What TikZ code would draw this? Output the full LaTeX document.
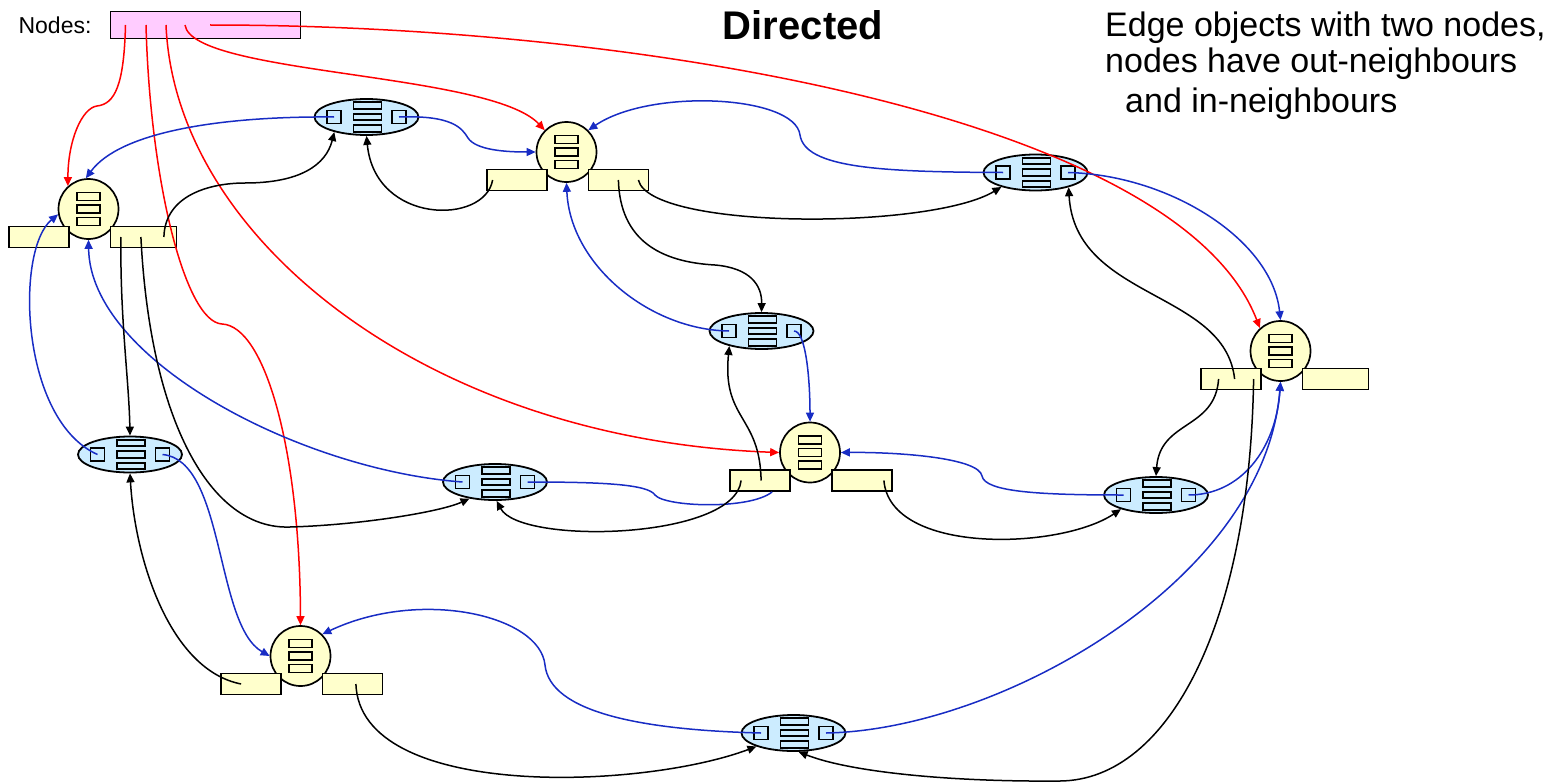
\documentclass[tikz,border=0pt]{standalone}
\usepackage{fontspec}
\setmainfont{Liberation Sans}
\usetikzlibrary{positioning,arrows.meta,shapes.geometric}
\definecolor{nodefill}{RGB}{255,255,204}
\definecolor{edgefill}{RGB}{204,236,255}
\definecolor{listfill}{RGB}{255,204,255}
\definecolor{linkblue}{RGB}{24,44,196}
\tikzset{
  >={Triangle[length=9pt,width=8pt]},
  gcirc/.style={circle,draw,fill=nodefill,line width=1.7pt,minimum size=60pt,
    inner sep=0pt},
  gslot/.style={draw,fill=nodefill,line width=1.6pt,minimum width=23pt,
    minimum height=8pt,inner sep=0pt},
  lbox/.style={draw,fill=nodefill,line width=1.8pt,minimum height=21pt,
    inner sep=0pt},
  ecirc/.style={ellipse,draw,fill=edgefill,line width=1.8pt,minimum width=104pt,
    minimum height=36pt,inner sep=0pt},
  esq/.style={draw,fill=edgefill,line width=1.7pt,minimum width=14pt,
    minimum height=13pt,inner sep=0pt},
  eslot/.style={draw,fill=edgefill,line width=1.7pt,minimum width=28pt,
    minimum height=6.5pt,inner sep=0pt},
  listbox/.style={draw,fill=listfill,line width=1.7pt,minimum width=190pt,
    minimum height=27pt,inner sep=0pt},
  ptr/.style={->,line width=1.5pt},
  memb/.style={ptr,red},
  elink/.style={ptr,linkblue},
  nlink/.style={ptr,black},
  gnode/.pic={
    \node[gcirc] (-c) {};
    \node[gslot] (-s1) at (0,-12.5) {};
    \node[gslot] (-s2) at (0,0) {};
    \node[gslot] (-s3) at (0,12.5) {};
    \node[lbox,minimum width=60pt,anchor=east] (-in) at (-19,28) {};
    \node[lbox,minimum width=#1,anchor=west] (-out) at (21,28) {};
  },
  eobj/.pic={
    \node[ecirc] (-c) {};
    \node[esq] (-l) at (-32.5,0) {};
    \node[esq] (-r) at (32.5,0) {};
    \node[eslot] (-s1) at (1,-11.5) {};
    \node[eslot] (-s2) at (1,0) {};
    \node[eslot] (-s3) at (1,11.5) {};
  },
}

\begin{document}
\begin{tikzpicture}[x=1pt,y=-1pt]
  \useasboundingbox (0,0) rectangle (1560,784);
  % titles
  \node[font=\bfseries\fontsize{40}{48}\selectfont] (title) at (803,25) {Directed};
  \node[anchor=north west,align=left,inner sep=0pt,
    font=\fontsize{34}{36}\selectfont] (note) at (1105,12)
    {Edge objects with two nodes,\\nodes have out-neighbours\\[4pt]
     \hspace*{20pt}and in-neighbours};
  \node[listbox] (nodes) at (205.5,25) {};
  \node[left=18pt of nodes,inner sep=0pt,font=\fontsize{23}{28}\selectfont]
    (nodeslbl) {Nodes:};
  % graph nodes
  \pic (n1) at (88.5,209) {gnode=66};
  \pic (n2) at (566.5,152) {gnode=60};
  \pic (n3) at (1280.5,351) {gnode=66};
  \pic (n4) at (810,452.5) {gnode=60};
  \pic (n5) at (300.5,656) {gnode=60};
  % edge objects
  \pic (e1) at (366.5,117) {eobj};
  \pic (e2) at (1035.5,172.5) {eobj};
  \pic (e3) at (761.5,331) {eobj};
  \pic (e4) at (130,454.5) {eobj};
  \pic (e5) at (495,482) {eobj};
  \pic (e6) at (1156,495) {eobj};
  \pic (e7) at (793.5,733) {eobj};
  % node list
  \draw[memb] ([xshift=-80pt]nodes.center) .. controls (124,85) and (115,104) .. (97,106)
    .. controls (82,108) and (68,140) .. (n1-c.132);
  \draw[memb] ([xshift=-59.5pt]nodes.center) .. controls (150,180) and (185,322) .. (222,324)
    .. controls (265,326) and (300,450) .. (n5-c.north);
  \draw[memb] ([xshift=-39.5pt]nodes.center) .. controls (175,240) and (430,440) .. (n4-c.west);
  \draw[memb] ([xshift=-20.5pt]nodes.center) .. controls (192,75) and (490,72) .. (n2-c.135);
  \draw[memb] ([xshift=4.5pt]nodes.center) .. controls (650,25) and (1180,120) .. (n3-c.132);
  % edge -> its two nodes
  \draw[elink] (e1-l.center) .. controls (220,116) and (120,132) .. (n1-c.95);
  \draw[elink] (e1-r.center) .. controls (452,115) and (462,128) .. (468,138)
    .. controls (476,150) and (505,152) .. (n2-c.west);
  \draw[elink] (e2-l.center) .. controls (880,172) and (805,168) .. (800,135)
    .. controls (795,95) and (650,88) .. (n2-c.45);
  \draw[elink] (e2-r.center) .. controls (1170,175) and (1272,240) .. (n3-c.north);
  \draw[elink] (e3-l.center) .. controls (650,330) and (570,265) .. (n2-c.south);
  \draw[elink] (e3-r.center) .. controls (806,331) and (810,380) .. (n4-c.north);
  \draw[elink] (e4-l.center) .. controls (20,420) and (15,250) .. (n1-c.190);
  \draw[elink] (e4-r.center) .. controls (225,460) and (215,625) .. (n5-c.west);
  \draw[elink] (e5-l.center) .. controls (300,470) and (90,360) .. (n1-c.south);
  \draw[elink,-] (e5-r.center) .. controls (600,482) and (648,484) .. (655,495)
    .. controls (665,507) and (750,510) .. ([xshift=12pt]n4-in.south);
  \draw[elink] (e6-l.center) .. controls (1040,495) and (985,492) .. (982,476)
    .. controls (979,458) and (900,452) .. (n4-c.east);
  \draw[elink] (e6-r.center) .. controls (1240,495) and (1276,450) .. (n3-c.south);
  \draw[elink] (e7-l.center) .. controls (640,730) and (550,712) .. (545,665)
    .. controls (540,615) and (420,588) .. (n5-c.45);
  \draw[elink] (e7-r.center) .. controls (1000,730) and (1265,580) .. (n3-c.south);
  % in/out lists -> edges
  \draw[nlink] ([xshift=20.5pt]n1-out.center) .. controls (165,195) and (210,183) .. (245,183)
    .. controls (300,183) and (326,165) .. (e1-c.205);
  \draw[nlink] ([xshift=-22.5pt]n1-out.center) .. controls (120,320) and (129,380) .. (e4-c.north);
  \draw[nlink] ([xshift=-2.5pt]n1-out.center) .. controls (150,420) and (210,530) .. (290,527)
    .. controls (360,525) and (440,512) .. (e5-c.213);
  \draw[nlink] ([xshift=-24pt]n2-in.center) .. controls (485,225) and (375,225) .. (e1-c.south);
  \draw[nlink] (n2-out.center) .. controls (620,240) and (660,262) .. (715,265)
    .. controls (750,268) and (762,285) .. (e3-c.north);
  \draw[nlink] ([xshift=20pt]n2-out.center) .. controls (650,230) and (930,230) .. (e2-c.203);
  \draw[nlink] ([xshift=4pt]n3-in.center) .. controls (1225,290) and (1075,300) .. (e2-c.336);
  \draw[nlink] ([xshift=-12pt]n3-in.center) .. controls (1215,430) and (1160,420) .. (e6-c.north);
  \draw[nlink] ([xshift=23pt]n3-in.center) .. controls (1250,620) and (1170,780) .. (1060,781)
    .. controls (950,782) and (850,772) .. (e7-c.285);
  \draw[nlink] ([xshift=1pt]n4-in.center) .. controls (760,415) and (722,420) .. (e3-c.205);
  \draw[nlink] ([xshift=-19pt]n4-in.center) .. controls (735,540) and (520,545) .. (e5-c.275);
  \draw[nlink] ([xshift=22pt]n4-out.center) .. controls (890,555) and (1060,550) .. (e6-c.202);
  \draw[nlink] ([xshift=-9.5pt]n5-in.center) .. controls (170,670) and (135,560) .. (e4-c.south);
  \draw[nlink] ([xshift=3.5pt]n5-out.center) .. controls (360,800) and (640,790) .. (e7-c.200);
\end{tikzpicture}
\end{document}
